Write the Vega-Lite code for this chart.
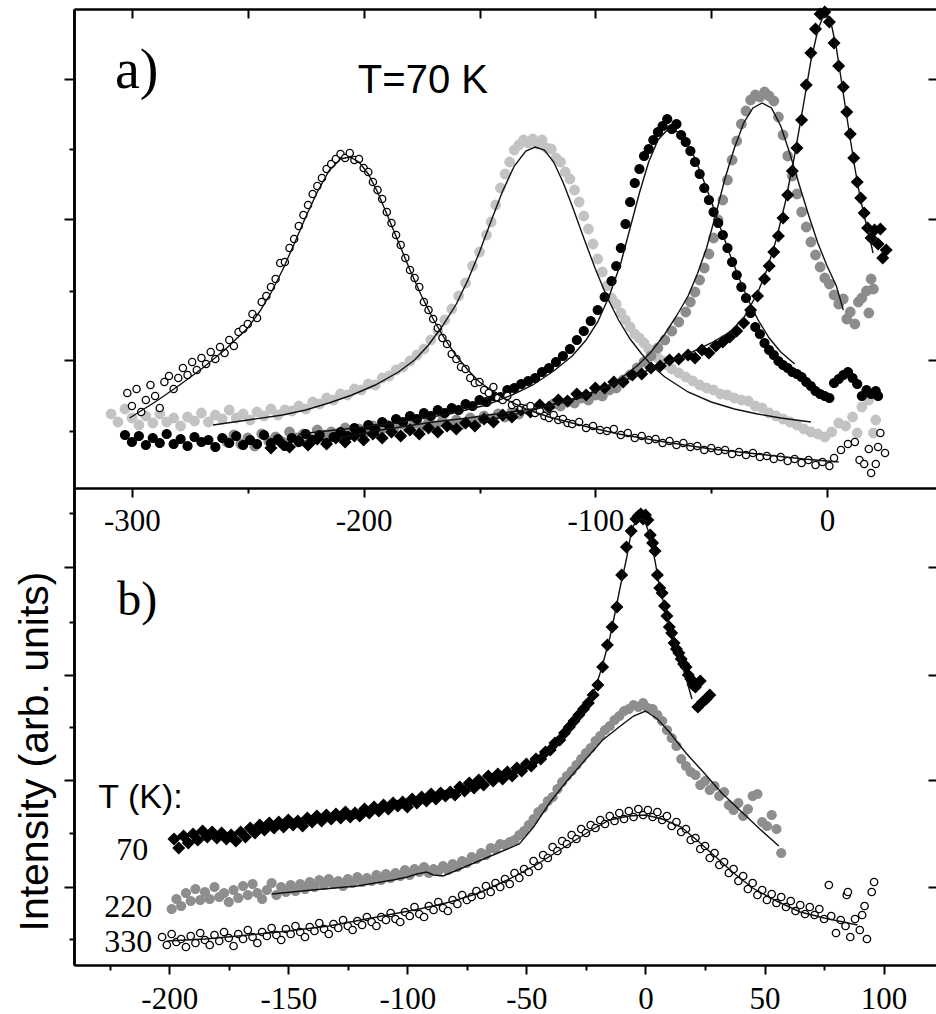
{
"$schema": "https://vega.github.io/schema/vega-lite/v6.json",
"width": 862, "height": 956,
"autosize": {"type": "none"},
"padding": {"left": 74, "top": 9, "right": 0, "bottom": 49},
"background": "white",
"config": {"view": {"stroke": null}, "axis": {"grid": false, "domainColor": "#000", "tickColor": "#000", "labelColor": "#000", "domainWidth": 2.5, "tickWidth": 2, "labelFont": "Liberation Serif", "labelFontSize": 31, "titleColor": "#000"}},
"datasets": {
"pa": [
{"s":"a2","x":-309,"y":7.4},{"s":"a2","x":-306,"y":6.6},{"s":"a2","x":-303,"y":7.9},{"s":"a2","x":-300,"y":7.0},{"s":"a2","x":-297,"y":6.3},{"s":"a2","x":-294,"y":7.2},{"s":"a2","x":-291,"y":6.5},{"s":"a2","x":-288,"y":7.4},{"s":"a2","x":-285,"y":6.6},{"s":"a2","x":-282,"y":7.0},{"s":"a2","x":-279,"y":6.2},{"s":"a2","x":-276,"y":7.1},{"s":"a2","x":-273,"y":6.7},{"s":"a2","x":-270,"y":7.5},{"s":"a2","x":-267,"y":6.6},{"s":"a2","x":-264,"y":7.3},{"s":"a2","x":-261,"y":6.9},{"s":"a2","x":-258,"y":7.8},{"s":"a2","x":-255,"y":7.0},{"s":"a2","x":-252,"y":7.4},{"s":"a2","x":-249,"y":6.8},{"s":"a2","x":-246,"y":7.6},{"s":"a2","x":-243,"y":7.2},{"s":"a2","x":-240,"y":7.9},{"s":"a2","x":-237,"y":7.3},{"s":"a2","x":-234,"y":7.8},{"s":"a2","x":-231,"y":7.7},{"s":"a2","x":-228,"y":8.2},{"s":"a2","x":-225,"y":7.9},{"s":"a2","x":-222,"y":8.6},{"s":"a2","x":-219,"y":8.4},{"s":"a2","x":-216,"y":9.0},{"s":"a2","x":-213,"y":8.8},{"s":"a2","x":-210,"y":9.4},{"s":"a2","x":-207,"y":9.3},{"s":"a2","x":-204,"y":9.9},{"s":"a2","x":-201,"y":9.8},{"s":"a2","x":-198,"y":10.4},{"s":"a2","x":-195,"y":10.3},{"s":"a2","x":-192,"y":11.0},{"s":"a2","x":-189,"y":11.2},{"s":"a2","x":-186,"y":11.8},{"s":"a2","x":-183,"y":12.1},{"s":"a2","x":-180,"y":12.7},{"s":"a2","x":-177,"y":13.3},{"s":"a2","x":-174,"y":13.9},{"s":"a2","x":-171,"y":14.8},{"s":"a2","x":-168,"y":15.7},{"s":"a2","x":-165,"y":16.8},{"s":"a2","x":-162,"y":17.9},{"s":"a2","x":-159,"y":19.2},{"s":"a2","x":-156,"y":20.5},{"s":"a2","x":-153,"y":22.2},{"s":"a2","x":-150,"y":23.6},{"s":"a2","x":-147,"y":25.3},{"s":"a2","x":-145,"y":26.6},{"s":"a2","x":-143,"y":28.3},{"s":"a2","x":-141,"y":30.0},{"s":"a2","x":-139,"y":31.4},{"s":"a2","x":-137,"y":32.6},{"s":"a2","x":-135,"y":33.8},{"s":"a2","x":-133,"y":34.3},{"s":"a2","x":-131,"y":34.8},{"s":"a2","x":-129,"y":34.5},{"s":"a2","x":-127,"y":34.9},{"s":"a2","x":-125,"y":34.4},{"s":"a2","x":-123,"y":34.8},{"s":"a2","x":-121,"y":34.0},{"s":"a2","x":-119,"y":33.9},{"s":"a2","x":-117,"y":33.0},{"s":"a2","x":-115,"y":32.6},{"s":"a2","x":-113,"y":31.6},{"s":"a2","x":-111,"y":30.9},{"s":"a2","x":-109,"y":29.8},{"s":"a2","x":-107,"y":28.6},{"s":"a2","x":-105,"y":27.2},{"s":"a2","x":-103,"y":25.9},{"s":"a2","x":-101,"y":24.4},{"s":"a2","x":-99,"y":22.9},{"s":"a2","x":-97,"y":21.6},{"s":"a2","x":-95,"y":20.2},{"s":"a2","x":-93,"y":19.0},{"s":"a2","x":-91,"y":18.4},{"s":"a2","x":-89,"y":17.5},{"s":"a2","x":-87,"y":16.8},{"s":"a2","x":-85,"y":16.1},{"s":"a2","x":-83,"y":15.4},{"s":"a2","x":-81,"y":15.0},{"s":"a2","x":-79,"y":14.5},{"s":"a2","x":-77,"y":13.9},{"s":"a2","x":-75,"y":13.6},{"s":"a2","x":-73,"y":13.0},{"s":"a2","x":-71,"y":12.7},{"s":"a2","x":-69,"y":12.3},{"s":"a2","x":-67,"y":11.9},{"s":"a2","x":-64,"y":11.5},{"s":"a2","x":-61,"y":11.1},{"s":"a2","x":-58,"y":10.7},{"s":"a2","x":-55,"y":10.3},{"s":"a2","x":-52,"y":10.0},{"s":"a2","x":-49,"y":9.8},{"s":"a2","x":-46,"y":9.4},{"s":"a2","x":-43,"y":9.3},{"s":"a2","x":-40,"y":9.0},{"s":"a2","x":-37,"y":8.8},{"s":"a2","x":-34,"y":8.7},{"s":"a2","x":-31,"y":8.2},{"s":"a2","x":-28,"y":8.0},{"s":"a2","x":-25,"y":7.5},{"s":"a2","x":-22,"y":7.2},{"s":"a2","x":-19,"y":6.9},{"s":"a2","x":-16,"y":6.6},{"s":"a2","x":-13,"y":6.3},{"s":"a2","x":-10,"y":5.9},{"s":"a2","x":-7,"y":5.6},{"s":"a2","x":-4,"y":5.4},{"s":"a2","x":-1,"y":5.1},{"s":"a2","x":2,"y":5.6},{"s":"a2","x":5,"y":6.5},{"s":"a2","x":8,"y":6.2},{"s":"a2","x":11,"y":7.1},{"s":"a2","x":13,"y":5.5},{"s":"a2","x":15,"y":8.1},{"s":"a2","x":18,"y":8.8},{"s":"a2","x":20,"y":5.5},{"s":"a2","x":21,"y":6.8},
{"s":"a4","x":-259,"y":4.6},{"s":"a4","x":-256,"y":5.3},{"s":"a4","x":-253,"y":4.4},{"s":"a4","x":-250,"y":5.0},{"s":"a4","x":-247,"y":4.2},{"s":"a4","x":-244,"y":5.4},{"s":"a4","x":-241,"y":4.7},{"s":"a4","x":-238,"y":5.1},{"s":"a4","x":-235,"y":4.6},{"s":"a4","x":-232,"y":5.6},{"s":"a4","x":-229,"y":5.0},{"s":"a4","x":-226,"y":5.4},{"s":"a4","x":-223,"y":4.9},{"s":"a4","x":-220,"y":5.8},{"s":"a4","x":-217,"y":5.3},{"s":"a4","x":-214,"y":5.6},{"s":"a4","x":-211,"y":5.2},{"s":"a4","x":-208,"y":6.0},{"s":"a4","x":-205,"y":5.5},{"s":"a4","x":-202,"y":5.9},{"s":"a4","x":-199,"y":5.6},{"s":"a4","x":-196,"y":6.2},{"s":"a4","x":-193,"y":5.7},{"s":"a4","x":-190,"y":6.3},{"s":"a4","x":-187,"y":5.9},{"s":"a4","x":-184,"y":6.4},{"s":"a4","x":-181,"y":6.0},{"s":"a4","x":-178,"y":6.5},{"s":"a4","x":-175,"y":6.1},{"s":"a4","x":-172,"y":6.6},{"s":"a4","x":-169,"y":6.2},{"s":"a4","x":-166,"y":6.7},{"s":"a4","x":-163,"y":6.3},{"s":"a4","x":-160,"y":6.8},{"s":"a4","x":-157,"y":6.4},{"s":"a4","x":-154,"y":7.0},{"s":"a4","x":-151,"y":6.7},{"s":"a4","x":-148,"y":7.2},{"s":"a4","x":-145,"y":6.9},{"s":"a4","x":-142,"y":7.4},{"s":"a4","x":-139,"y":7.1},{"s":"a4","x":-136,"y":7.6},{"s":"a4","x":-133,"y":7.4},{"s":"a4","x":-130,"y":7.9},{"s":"a4","x":-127,"y":7.7},{"s":"a4","x":-124,"y":8.1},{"s":"a4","x":-121,"y":7.9},{"s":"a4","x":-118,"y":8.4},{"s":"a4","x":-115,"y":8.2},{"s":"a4","x":-112,"y":8.6},{"s":"a4","x":-109,"y":8.5},{"s":"a4","x":-106,"y":9.0},{"s":"a4","x":-103,"y":8.8},{"s":"a4","x":-100,"y":9.3},{"s":"a4","x":-97,"y":9.2},{"s":"a4","x":-94,"y":9.8},{"s":"a4","x":-91,"y":10.0},{"s":"a4","x":-88,"y":10.8},{"s":"a4","x":-85,"y":11.3},{"s":"a4","x":-82,"y":12.0},{"s":"a4","x":-79,"y":12.6},{"s":"a4","x":-76,"y":13.2},{"s":"a4","x":-73,"y":14.0},{"s":"a4","x":-70,"y":14.8},{"s":"a4","x":-67,"y":15.7},{"s":"a4","x":-64,"y":16.6},{"s":"a4","x":-61,"y":17.6},{"s":"a4","x":-59,"y":18.6},{"s":"a4","x":-57,"y":19.6},{"s":"a4","x":-55,"y":20.8},{"s":"a4","x":-53,"y":22.0},{"s":"a4","x":-51,"y":23.4},{"s":"a4","x":-49,"y":25.0},{"s":"a4","x":-47,"y":26.8},{"s":"a4","x":-45,"y":28.8},{"s":"a4","x":-43,"y":30.8},{"s":"a4","x":-41,"y":32.8},{"s":"a4","x":-39,"y":34.7},{"s":"a4","x":-37,"y":36.4},{"s":"a4","x":-35,"y":37.7},{"s":"a4","x":-33,"y":38.8},{"s":"a4","x":-31,"y":39.3},{"s":"a4","x":-29,"y":39.1},{"s":"a4","x":-27,"y":39.6},{"s":"a4","x":-25,"y":39.2},{"s":"a4","x":-23,"y":38.7},{"s":"a4","x":-21,"y":37.1},{"s":"a4","x":-19,"y":35.3},{"s":"a4","x":-17,"y":33.2},{"s":"a4","x":-15,"y":31.2},{"s":"a4","x":-13,"y":29.4},{"s":"a4","x":-11,"y":27.6},{"s":"a4","x":-9,"y":26.1},{"s":"a4","x":-7,"y":24.6},{"s":"a4","x":-5,"y":23.3},{"s":"a4","x":-3,"y":22.1},{"s":"a4","x":-1,"y":21.0},{"s":"a4","x":1,"y":20.4},{"s":"a4","x":3,"y":19.3},{"s":"a4","x":5,"y":18.4},{"s":"a4","x":7,"y":18.9},{"s":"a4","x":8.5,"y":16.9},{"s":"a4","x":10,"y":17.6},{"s":"a4","x":12,"y":16.4},{"s":"a4","x":13.5,"y":18.6},{"s":"a4","x":15,"y":19.0},{"s":"a4","x":17,"y":19.7},{"s":"a4","x":18,"y":17.5},{"s":"a4","x":19,"y":20.9},{"s":"a4","x":20,"y":19.9},
{"s":"a3","x":-303,"y":5.3},{"s":"a3","x":-300,"y":4.6},{"s":"a3","x":-297,"y":5.2},{"s":"a3","x":-294,"y":4.3},{"s":"a3","x":-291,"y":5.0},{"s":"a3","x":-288,"y":4.5},{"s":"a3","x":-285,"y":5.4},{"s":"a3","x":-282,"y":4.4},{"s":"a3","x":-279,"y":4.9},{"s":"a3","x":-276,"y":4.2},{"s":"a3","x":-273,"y":5.1},{"s":"a3","x":-270,"y":4.6},{"s":"a3","x":-267,"y":4.8},{"s":"a3","x":-264,"y":4.1},{"s":"a3","x":-261,"y":5.0},{"s":"a3","x":-258,"y":4.5},{"s":"a3","x":-255,"y":5.2},{"s":"a3","x":-252,"y":4.3},{"s":"a3","x":-249,"y":4.8},{"s":"a3","x":-246,"y":4.4},{"s":"a3","x":-243,"y":5.3},{"s":"a3","x":-240,"y":4.5},{"s":"a3","x":-237,"y":4.9},{"s":"a3","x":-234,"y":4.2},{"s":"a3","x":-231,"y":5.0},{"s":"a3","x":-228,"y":4.6},{"s":"a3","x":-225,"y":5.4},{"s":"a3","x":-222,"y":4.8},{"s":"a3","x":-219,"y":5.3},{"s":"a3","x":-216,"y":4.5},{"s":"a3","x":-213,"y":5.1},{"s":"a3","x":-210,"y":5.6},{"s":"a3","x":-207,"y":5.2},{"s":"a3","x":-204,"y":6.0},{"s":"a3","x":-201,"y":5.6},{"s":"a3","x":-198,"y":6.3},{"s":"a3","x":-195,"y":5.9},{"s":"a3","x":-192,"y":6.6},{"s":"a3","x":-189,"y":6.2},{"s":"a3","x":-186,"y":6.9},{"s":"a3","x":-183,"y":6.6},{"s":"a3","x":-180,"y":7.2},{"s":"a3","x":-177,"y":6.9},{"s":"a3","x":-174,"y":7.5},{"s":"a3","x":-171,"y":7.2},{"s":"a3","x":-168,"y":7.8},{"s":"a3","x":-165,"y":7.5},{"s":"a3","x":-162,"y":8.0},{"s":"a3","x":-159,"y":7.8},{"s":"a3","x":-156,"y":8.4},{"s":"a3","x":-153,"y":8.2},{"s":"a3","x":-150,"y":8.8},{"s":"a3","x":-147,"y":8.6},{"s":"a3","x":-144,"y":9.2},{"s":"a3","x":-141,"y":9.1},{"s":"a3","x":-138,"y":9.8},{"s":"a3","x":-135,"y":10.0},{"s":"a3","x":-132,"y":10.4},{"s":"a3","x":-129,"y":10.7},{"s":"a3","x":-126,"y":11.0},{"s":"a3","x":-123,"y":11.6},{"s":"a3","x":-120,"y":12.0},{"s":"a3","x":-117,"y":12.6},{"s":"a3","x":-114,"y":13.2},{"s":"a3","x":-111,"y":13.9},{"s":"a3","x":-108,"y":14.8},{"s":"a3","x":-105,"y":15.7},{"s":"a3","x":-102,"y":16.7},{"s":"a3","x":-99,"y":17.8},{"s":"a3","x":-96,"y":19.1},{"s":"a3","x":-93,"y":20.7},{"s":"a3","x":-91,"y":22.2},{"s":"a3","x":-89,"y":24.0},{"s":"a3","x":-87,"y":26.4},{"s":"a3","x":-85,"y":28.6},{"s":"a3","x":-83,"y":30.5},{"s":"a3","x":-81,"y":31.9},{"s":"a3","x":-79,"y":33.2},{"s":"a3","x":-77,"y":33.9},{"s":"a3","x":-75,"y":34.8},{"s":"a3","x":-73,"y":35.6},{"s":"a3","x":-71,"y":36.2},{"s":"a3","x":-69,"y":36.9},{"s":"a3","x":-67,"y":35.9},{"s":"a3","x":-65,"y":36.4},{"s":"a3","x":-63,"y":35.3},{"s":"a3","x":-61,"y":34.6},{"s":"a3","x":-59,"y":33.7},{"s":"a3","x":-57,"y":32.6},{"s":"a3","x":-55,"y":31.4},{"s":"a3","x":-53,"y":30.0},{"s":"a3","x":-51,"y":28.8},{"s":"a3","x":-49,"y":27.6},{"s":"a3","x":-47,"y":26.5},{"s":"a3","x":-45,"y":25.3},{"s":"a3","x":-43,"y":24.0},{"s":"a3","x":-41,"y":22.6},{"s":"a3","x":-39,"y":21.3},{"s":"a3","x":-37,"y":20.1},{"s":"a3","x":-35,"y":19.0},{"s":"a3","x":-33,"y":17.5},{"s":"a3","x":-31,"y":16.1},{"s":"a3","x":-29,"y":15.4},{"s":"a3","x":-27,"y":14.5},{"s":"a3","x":-25,"y":13.8},{"s":"a3","x":-23,"y":13.3},{"s":"a3","x":-21,"y":12.7},{"s":"a3","x":-19,"y":12.3},{"s":"a3","x":-17,"y":12.0},{"s":"a3","x":-15,"y":11.6},{"s":"a3","x":-13,"y":11.4},{"s":"a3","x":-11,"y":11.1},{"s":"a3","x":-9,"y":10.6},{"s":"a3","x":-7,"y":10.2},{"s":"a3","x":-5,"y":9.7},{"s":"a3","x":-3,"y":9.4},{"s":"a3","x":-1,"y":9.2},{"s":"a3","x":1,"y":9.0},{"s":"a3","x":3,"y":10.5},{"s":"a3","x":5,"y":10.9},{"s":"a3","x":7,"y":11.3},{"s":"a3","x":9,"y":11.6},{"s":"a3","x":11,"y":11.0},{"s":"a3","x":13,"y":10.4},{"s":"a3","x":15,"y":9.2},{"s":"a3","x":17,"y":9.8},{"s":"a3","x":19,"y":9.4},{"s":"a3","x":21,"y":9.7},{"s":"a3","x":22,"y":9.2},
{"s":"a5","x":-240,"y":4.0},{"s":"a5","x":-236,"y":4.6},{"s":"a5","x":-232,"y":4.1},{"s":"a5","x":-228,"y":4.7},{"s":"a5","x":-224,"y":4.3},{"s":"a5","x":-220,"y":4.9},{"s":"a5","x":-216,"y":4.4},{"s":"a5","x":-212,"y":5.0},{"s":"a5","x":-208,"y":4.6},{"s":"a5","x":-204,"y":5.2},{"s":"a5","x":-200,"y":4.8},{"s":"a5","x":-196,"y":5.4},{"s":"a5","x":-192,"y":5.0},{"s":"a5","x":-188,"y":5.6},{"s":"a5","x":-184,"y":5.2},{"s":"a5","x":-180,"y":5.8},{"s":"a5","x":-176,"y":5.4},{"s":"a5","x":-172,"y":6.0},{"s":"a5","x":-168,"y":5.6},{"s":"a5","x":-164,"y":6.2},{"s":"a5","x":-160,"y":5.9},{"s":"a5","x":-156,"y":6.5},{"s":"a5","x":-152,"y":6.2},{"s":"a5","x":-148,"y":6.9},{"s":"a5","x":-144,"y":6.6},{"s":"a5","x":-140,"y":7.3},{"s":"a5","x":-136,"y":7.1},{"s":"a5","x":-132,"y":7.8},{"s":"a5","x":-128,"y":7.6},{"s":"a5","x":-124,"y":8.3},{"s":"a5","x":-120,"y":8.1},{"s":"a5","x":-116,"y":8.8},{"s":"a5","x":-112,"y":8.7},{"s":"a5","x":-108,"y":9.4},{"s":"a5","x":-104,"y":9.3},{"s":"a5","x":-100,"y":10.0},{"s":"a5","x":-96,"y":10.0},{"s":"a5","x":-92,"y":10.6},{"s":"a5","x":-88,"y":10.6},{"s":"a5","x":-84,"y":11.3},{"s":"a5","x":-80,"y":11.4},{"s":"a5","x":-76,"y":12.0},{"s":"a5","x":-72,"y":12.2},{"s":"a5","x":-68,"y":12.8},{"s":"a5","x":-64,"y":12.9},{"s":"a5","x":-60,"y":13.3},{"s":"a5","x":-57,"y":13.0},{"s":"a5","x":-54,"y":13.8},{"s":"a5","x":-51,"y":13.5},{"s":"a5","x":-48,"y":14.2},{"s":"a5","x":-45,"y":14.6},{"s":"a5","x":-42,"y":15.1},{"s":"a5","x":-39,"y":15.7},{"s":"a5","x":-36,"y":16.5},{"s":"a5","x":-33,"y":17.8},{"s":"a5","x":-30,"y":19.2},{"s":"a5","x":-27,"y":20.9},{"s":"a5","x":-25,"y":22.2},{"s":"a5","x":-23,"y":23.6},{"s":"a5","x":-21,"y":25.2},{"s":"a5","x":-19,"y":27.0},{"s":"a5","x":-17,"y":29.3},{"s":"a5","x":-15,"y":31.7},{"s":"a5","x":-13,"y":34.0},{"s":"a5","x":-11,"y":36.8},{"s":"a5","x":-9,"y":40.3},{"s":"a5","x":-7,"y":43.5},{"s":"a5","x":-5,"y":45.9},{"s":"a5","x":-3,"y":47.4},{"s":"a5","x":-1,"y":47.6},{"s":"a5","x":1,"y":46.6},{"s":"a5","x":3,"y":44.5},{"s":"a5","x":5,"y":42.2},{"s":"a5","x":7,"y":40.1},{"s":"a5","x":8.5,"y":37.6},{"s":"a5","x":10,"y":35.4},{"s":"a5","x":11.5,"y":33.0},{"s":"a5","x":13,"y":30.6},{"s":"a5","x":14.5,"y":29.0},{"s":"a5","x":16,"y":27.5},{"s":"a5","x":17.5,"y":26.0},{"s":"a5","x":19,"y":25.0},{"s":"a5","x":20.5,"y":25.8},{"s":"a5","x":22,"y":24.4},{"s":"a5","x":23,"y":25.9},{"s":"a5","x":24,"y":23.0},{"s":"a5","x":25.5,"y":23.8},
{"s":"a1","x":-302,"y":9.5},{"s":"a1","x":-300,"y":8.2},{"s":"a1","x":-298,"y":9.9},{"s":"a1","x":-296,"y":7.6},{"s":"a1","x":-294,"y":8.8},{"s":"a1","x":-292,"y":10.3},{"s":"a1","x":-290,"y":9.2},{"s":"a1","x":-288,"y":8.0},{"s":"a1","x":-286,"y":10.6},{"s":"a1","x":-284,"y":11.2},{"s":"a1","x":-282,"y":9.9},{"s":"a1","x":-280,"y":11.0},{"s":"a1","x":-278,"y":12.0},{"s":"a1","x":-276,"y":11.3},{"s":"a1","x":-274,"y":12.6},{"s":"a1","x":-272,"y":11.8},{"s":"a1","x":-270,"y":13.0},{"s":"a1","x":-268,"y":12.4},{"s":"a1","x":-266,"y":13.6},{"s":"a1","x":-264,"y":12.9},{"s":"a1","x":-262,"y":14.1},{"s":"a1","x":-260,"y":13.5},{"s":"a1","x":-258,"y":14.8},{"s":"a1","x":-256,"y":14.2},{"s":"a1","x":-254,"y":15.6},{"s":"a1","x":-252,"y":15.9},{"s":"a1","x":-250,"y":16.4},{"s":"a1","x":-248,"y":17.4},{"s":"a1","x":-246,"y":17.0},{"s":"a1","x":-244,"y":18.6},{"s":"a1","x":-242,"y":19.2},{"s":"a1","x":-240,"y":20.1},{"s":"a1","x":-238,"y":20.9},{"s":"a1","x":-236,"y":22.5},{"s":"a1","x":-234,"y":22.6},{"s":"a1","x":-232,"y":24.0},{"s":"a1","x":-230,"y":24.9},{"s":"a1","x":-228,"y":26.2},{"s":"a1","x":-226,"y":27.3},{"s":"a1","x":-224,"y":28.3},{"s":"a1","x":-222,"y":29.4},{"s":"a1","x":-220,"y":30.2},{"s":"a1","x":-218,"y":31.0},{"s":"a1","x":-216,"y":31.9},{"s":"a1","x":-214,"y":32.4},{"s":"a1","x":-212,"y":32.9},{"s":"a1","x":-210,"y":33.4},{"s":"a1","x":-208,"y":33.0},{"s":"a1","x":-206,"y":33.5},{"s":"a1","x":-204,"y":32.8},{"s":"a1","x":-202,"y":32.9},{"s":"a1","x":-200,"y":32.0},{"s":"a1","x":-198,"y":31.6},{"s":"a1","x":-196,"y":30.6},{"s":"a1","x":-194,"y":29.8},{"s":"a1","x":-192,"y":28.9},{"s":"a1","x":-190,"y":27.6},{"s":"a1","x":-188,"y":26.5},{"s":"a1","x":-186,"y":25.3},{"s":"a1","x":-184,"y":24.3},{"s":"a1","x":-182,"y":23.0},{"s":"a1","x":-180,"y":21.8},{"s":"a1","x":-178,"y":21.0},{"s":"a1","x":-176,"y":20.1},{"s":"a1","x":-174,"y":18.6},{"s":"a1","x":-172,"y":17.8},{"s":"a1","x":-170,"y":16.9},{"s":"a1","x":-168,"y":16.0},{"s":"a1","x":-166,"y":15.0},{"s":"a1","x":-164,"y":14.4},{"s":"a1","x":-162,"y":13.4},{"s":"a1","x":-160,"y":12.9},{"s":"a1","x":-158,"y":12.1},{"s":"a1","x":-156,"y":11.9},{"s":"a1","x":-154,"y":11.0},{"s":"a1","x":-152,"y":10.5},{"s":"a1","x":-150,"y":10.6},{"s":"a1","x":-148,"y":9.8},{"s":"a1","x":-146,"y":9.5},{"s":"a1","x":-144,"y":10.1},{"s":"a1","x":-142,"y":9.0},{"s":"a1","x":-140,"y":8.8},{"s":"a1","x":-138,"y":9.2},{"s":"a1","x":-136,"y":8.3},{"s":"a1","x":-134,"y":8.5},{"s":"a1","x":-132,"y":8.0},{"s":"a1","x":-130,"y":7.9},{"s":"a1","x":-128,"y":8.2},{"s":"a1","x":-126,"y":7.5},{"s":"a1","x":-124,"y":7.7},{"s":"a1","x":-122,"y":7.2},{"s":"a1","x":-120,"y":7.0},{"s":"a1","x":-118,"y":7.3},{"s":"a1","x":-116,"y":6.8},{"s":"a1","x":-114,"y":6.9},{"s":"a1","x":-112,"y":6.5},{"s":"a1","x":-110,"y":6.4},{"s":"a1","x":-107,"y":6.6},{"s":"a1","x":-104,"y":6.0},{"s":"a1","x":-101,"y":6.2},{"s":"a1","x":-98,"y":5.8},{"s":"a1","x":-95,"y":5.7},{"s":"a1","x":-92,"y":5.9},{"s":"a1","x":-89,"y":5.3},{"s":"a1","x":-86,"y":5.5},{"s":"a1","x":-83,"y":5.0},{"s":"a1","x":-80,"y":5.2},{"s":"a1","x":-77,"y":4.8},{"s":"a1","x":-74,"y":4.9},{"s":"a1","x":-71,"y":4.5},{"s":"a1","x":-68,"y":4.7},{"s":"a1","x":-65,"y":4.3},{"s":"a1","x":-62,"y":4.5},{"s":"a1","x":-59,"y":4.1},{"s":"a1","x":-56,"y":4.2},{"s":"a1","x":-53,"y":3.8},{"s":"a1","x":-50,"y":4.0},{"s":"a1","x":-47,"y":3.7},{"s":"a1","x":-44,"y":3.8},{"s":"a1","x":-41,"y":3.4},{"s":"a1","x":-38,"y":3.6},{"s":"a1","x":-35,"y":3.3},{"s":"a1","x":-32,"y":3.5},{"s":"a1","x":-29,"y":3.1},{"s":"a1","x":-26,"y":3.2},{"s":"a1","x":-23,"y":2.9},{"s":"a1","x":-20,"y":3.1},{"s":"a1","x":-17,"y":2.7},{"s":"a1","x":-14,"y":2.9},{"s":"a1","x":-11,"y":2.5},{"s":"a1","x":-8,"y":2.8},{"s":"a1","x":-5,"y":2.3},{"s":"a1","x":-2,"y":2.6},{"s":"a1","x":1,"y":2.2},{"s":"a1","x":3,"y":3.0},{"s":"a1","x":6,"y":3.8},{"s":"a1","x":9,"y":4.4},{"s":"a1","x":12,"y":4.6},{"s":"a1","x":14,"y":2.8},{"s":"a1","x":16,"y":2.4},{"s":"a1","x":18,"y":3.9},{"s":"a1","x":19,"y":1.5},{"s":"a1","x":21,"y":2.4},{"s":"a1","x":22,"y":4.1},{"s":"a1","x":23,"y":5.5},{"s":"a1","x":25,"y":3.5}
],
"la": [
{"s":"a1","x":-301,"y":7.0},{"s":"a1","x":-290,"y":8.6},{"s":"a1","x":-280,"y":10.2},{"s":"a1","x":-270,"y":11.9},{"s":"a1","x":-260,"y":13.8},{"s":"a1","x":-250,"y":16.0},{"s":"a1","x":-245,"y":17.6},{"s":"a1","x":-240,"y":19.5},{"s":"a1","x":-235,"y":21.8},{"s":"a1","x":-230,"y":24.4},{"s":"a1","x":-225,"y":27.1},{"s":"a1","x":-220,"y":29.6},{"s":"a1","x":-215,"y":31.7},{"s":"a1","x":-210,"y":32.9},{"s":"a1","x":-206,"y":33.1},{"s":"a1","x":-202,"y":32.6},{"s":"a1","x":-198,"y":31.4},{"s":"a1","x":-194,"y":29.6},{"s":"a1","x":-190,"y":27.4},{"s":"a1","x":-185,"y":24.6},{"s":"a1","x":-180,"y":21.8},{"s":"a1","x":-175,"y":19.2},{"s":"a1","x":-170,"y":16.9},{"s":"a1","x":-165,"y":14.9},{"s":"a1","x":-160,"y":13.2},{"s":"a1","x":-155,"y":11.8},{"s":"a1","x":-150,"y":10.6},{"s":"a1","x":-140,"y":9.0},{"s":"a1","x":-130,"y":7.9},{"s":"a1","x":-120,"y":7.1},{"s":"a1","x":-105,"y":6.2},{"s":"a1","x":-90,"y":5.4},{"s":"a1","x":-70,"y":4.6},{"s":"a1","x":-50,"y":3.9},{"s":"a1","x":-30,"y":3.4},{"s":"a1","x":-10,"y":2.9},{"s":"a1","x":5,"y":2.6},
{"s":"a2","x":-265,"y":6.3},{"s":"a2","x":-250,"y":6.8},{"s":"a2","x":-235,"y":7.3},{"s":"a2","x":-225,"y":7.8},{"s":"a2","x":-215,"y":8.5},{"s":"a2","x":-205,"y":9.3},{"s":"a2","x":-195,"y":10.3},{"s":"a2","x":-185,"y":11.6},{"s":"a2","x":-178,"y":12.8},{"s":"a2","x":-172,"y":14.3},{"s":"a2","x":-166,"y":16.2},{"s":"a2","x":-160,"y":18.4},{"s":"a2","x":-155,"y":20.8},{"s":"a2","x":-150,"y":23.6},{"s":"a2","x":-145,"y":26.7},{"s":"a2","x":-140,"y":29.7},{"s":"a2","x":-135,"y":32.2},{"s":"a2","x":-130,"y":33.7},{"s":"a2","x":-126,"y":34.1},{"s":"a2","x":-122,"y":33.8},{"s":"a2","x":-118,"y":32.6},{"s":"a2","x":-114,"y":30.6},{"s":"a2","x":-110,"y":28.2},{"s":"a2","x":-105,"y":25.0},{"s":"a2","x":-100,"y":21.9},{"s":"a2","x":-95,"y":19.1},{"s":"a2","x":-90,"y":16.8},{"s":"a2","x":-85,"y":14.9},{"s":"a2","x":-80,"y":13.4},{"s":"a2","x":-75,"y":12.1},{"s":"a2","x":-70,"y":11.1},{"s":"a2","x":-60,"y":9.6},{"s":"a2","x":-50,"y":8.6},{"s":"a2","x":-40,"y":7.9},{"s":"a2","x":-30,"y":7.4},{"s":"a2","x":-20,"y":7.0},{"s":"a2","x":-7,"y":6.6},
{"s":"a3","x":-228,"y":5.4},{"s":"a3","x":-200,"y":6.1},{"s":"a3","x":-184,"y":6.6},{"s":"a3","x":-163,"y":7.4},{"s":"a3","x":-147,"y":8.3},{"s":"a3","x":-136,"y":9.3},{"s":"a3","x":-127,"y":10.3},{"s":"a3","x":-118,"y":11.7},{"s":"a3","x":-110,"y":13.2},{"s":"a3","x":-104,"y":14.8},{"s":"a3","x":-99,"y":16.6},{"s":"a3","x":-94,"y":19.2},{"s":"a3","x":-89,"y":22.5},{"s":"a3","x":-85,"y":26.0},{"s":"a3","x":-81,"y":29.5},{"s":"a3","x":-77,"y":32.6},{"s":"a3","x":-73,"y":34.8},{"s":"a3","x":-69,"y":35.8},{"s":"a3","x":-66,"y":35.9},{"s":"a3","x":-62,"y":35.0},{"s":"a3","x":-58,"y":33.5},{"s":"a3","x":-54,"y":31.2},{"s":"a3","x":-50,"y":28.7},{"s":"a3","x":-46,"y":26.0},{"s":"a3","x":-42,"y":23.4},{"s":"a3","x":-38,"y":21.0},{"s":"a3","x":-34,"y":18.8},{"s":"a3","x":-30,"y":16.9},{"s":"a3","x":-25,"y":15.0},{"s":"a3","x":-20,"y":13.6},{"s":"a3","x":-14,"y":12.4},
{"s":"a4","x":-211,"y":5.0},{"s":"a4","x":-195,"y":5.7},{"s":"a4","x":-184,"y":6.1},{"s":"a4","x":-170,"y":6.6},{"s":"a4","x":-155,"y":7.0},{"s":"a4","x":-140,"y":7.5},{"s":"a4","x":-127,"y":7.9},{"s":"a4","x":-115,"y":8.5},{"s":"a4","x":-105,"y":9.1},{"s":"a4","x":-95,"y":10.2},{"s":"a4","x":-89,"y":11.0},{"s":"a4","x":-82,"y":12.2},{"s":"a4","x":-76,"y":13.6},{"s":"a4","x":-70,"y":15.4},{"s":"a4","x":-65,"y":17.2},{"s":"a4","x":-60,"y":19.2},{"s":"a4","x":-56,"y":21.4},{"s":"a4","x":-52,"y":24.0},{"s":"a4","x":-48,"y":27.4},{"s":"a4","x":-44,"y":31.0},{"s":"a4","x":-40,"y":34.0},{"s":"a4","x":-36,"y":36.5},{"s":"a4","x":-32,"y":38.0},{"s":"a4","x":-28,"y":38.5},{"s":"a4","x":-24,"y":38.0},{"s":"a4","x":-20,"y":36.2},{"s":"a4","x":-16,"y":33.4},{"s":"a4","x":-12,"y":30.3},{"s":"a4","x":-8,"y":27.3},{"s":"a4","x":-4,"y":24.5},{"s":"a4","x":0,"y":22.2},{"s":"a4","x":4,"y":20.2},{"s":"a4","x":7,"y":17.8},
{"s":"a5","x":-150,"y":6.6},{"s":"a5","x":-130,"y":7.6},{"s":"a5","x":-110,"y":8.9},{"s":"a5","x":-90,"y":10.5},{"s":"a5","x":-75,"y":12.0},{"s":"a5","x":-60,"y":13.4},{"s":"a5","x":-50,"y":14.5},{"s":"a5","x":-42,"y":15.6},{"s":"a5","x":-36,"y":17.0},{"s":"a5","x":-30,"y":19.5},{"s":"a5","x":-26,"y":21.8},{"s":"a5","x":-22,"y":24.8},{"s":"a5","x":-18,"y":28.6},{"s":"a5","x":-14,"y":33.3},{"s":"a5","x":-10,"y":38.6},{"s":"a5","x":-7,"y":42.7},{"s":"a5","x":-4,"y":45.8},{"s":"a5","x":-2,"y":47.0},{"s":"a5","x":0,"y":47.2},{"s":"a5","x":2,"y":46.2},{"s":"a5","x":4,"y":44.0},{"s":"a5","x":6,"y":41.0},{"s":"a5","x":8,"y":37.9},{"s":"a5","x":10,"y":34.9},{"s":"a5","x":12,"y":32.0},{"s":"a5","x":14,"y":29.4},{"s":"a5","x":16,"y":27.2},{"s":"a5","x":18,"y":25.5},{"s":"a5","x":19.8,"y":23.5}
],
"pb": [
{"s":"b2","x":-199,"y":5.6},{"s":"b2","x":-197,"y":6.6},{"s":"b2","x":-195,"y":5.9},{"s":"b2","x":-193,"y":7.2},{"s":"b2","x":-191,"y":6.4},{"s":"b2","x":-189,"y":7.6},{"s":"b2","x":-187,"y":6.5},{"s":"b2","x":-185,"y":7.3},{"s":"b2","x":-183,"y":6.6},{"s":"b2","x":-181,"y":7.8},{"s":"b2","x":-179,"y":6.8},{"s":"b2","x":-177,"y":7.2},{"s":"b2","x":-175,"y":6.3},{"s":"b2","x":-173,"y":7.5},{"s":"b2","x":-171,"y":6.7},{"s":"b2","x":-169,"y":7.9},{"s":"b2","x":-167,"y":7.0},{"s":"b2","x":-165,"y":8.1},{"s":"b2","x":-163,"y":7.2},{"s":"b2","x":-161,"y":6.6},{"s":"b2","x":-159,"y":7.5},{"s":"b2","x":-157,"y":8.2},{"s":"b2","x":-155,"y":7.0},{"s":"b2","x":-153,"y":7.8},{"s":"b2","x":-151,"y":7.3},{"s":"b2","x":-149,"y":8.0},{"s":"b2","x":-147,"y":7.4},{"s":"b2","x":-145,"y":8.1},{"s":"b2","x":-143,"y":7.6},{"s":"b2","x":-141,"y":8.3},{"s":"b2","x":-139,"y":7.8},{"s":"b2","x":-137,"y":8.5},{"s":"b2","x":-135,"y":8.0},{"s":"b2","x":-133,"y":8.6},{"s":"b2","x":-131,"y":8.1},{"s":"b2","x":-129,"y":8.4},{"s":"b2","x":-127,"y":7.9},{"s":"b2","x":-125,"y":8.6},{"s":"b2","x":-123,"y":8.2},{"s":"b2","x":-121,"y":8.8},{"s":"b2","x":-119,"y":8.3},{"s":"b2","x":-117,"y":8.7},{"s":"b2","x":-115,"y":8.4},{"s":"b2","x":-113,"y":9.0},{"s":"b2","x":-111,"y":8.5},{"s":"b2","x":-109,"y":9.1},{"s":"b2","x":-107,"y":8.7},{"s":"b2","x":-105,"y":9.2},{"s":"b2","x":-103,"y":8.9},{"s":"b2","x":-101,"y":9.5},{"s":"b2","x":-99,"y":9.0},{"s":"b2","x":-97,"y":9.6},{"s":"b2","x":-95,"y":9.3},{"s":"b2","x":-93,"y":9.8},{"s":"b2","x":-91,"y":9.2},{"s":"b2","x":-89,"y":9.6},{"s":"b2","x":-87,"y":9.4},{"s":"b2","x":-85,"y":9.9},{"s":"b2","x":-83,"y":9.5},{"s":"b2","x":-81,"y":10.1},{"s":"b2","x":-79,"y":9.8},{"s":"b2","x":-77,"y":10.4},{"s":"b2","x":-75,"y":10.2},{"s":"b2","x":-73,"y":10.8},{"s":"b2","x":-71,"y":10.6},{"s":"b2","x":-69,"y":11.2},{"s":"b2","x":-67,"y":11.0},{"s":"b2","x":-65,"y":11.7},{"s":"b2","x":-63,"y":11.6},{"s":"b2","x":-61,"y":12.1},{"s":"b2","x":-59,"y":12.0},{"s":"b2","x":-57,"y":12.3},{"s":"b2","x":-55,"y":12.5},{"s":"b2","x":-53,"y":13.0},{"s":"b2","x":-51,"y":13.4},{"s":"b2","x":-49,"y":14.0},{"s":"b2","x":-47,"y":14.6},{"s":"b2","x":-45,"y":15.3},{"s":"b2","x":-43,"y":15.7},{"s":"b2","x":-41,"y":16.4},{"s":"b2","x":-39,"y":16.8},{"s":"b2","x":-37,"y":17.6},{"s":"b2","x":-35,"y":18.3},{"s":"b2","x":-33,"y":18.9},{"s":"b2","x":-31,"y":19.4},{"s":"b2","x":-29,"y":20.0},{"s":"b2","x":-27,"y":20.6},{"s":"b2","x":-25,"y":21.2},{"s":"b2","x":-23,"y":21.7},{"s":"b2","x":-21,"y":22.4},{"s":"b2","x":-19,"y":22.9},{"s":"b2","x":-17,"y":23.5},{"s":"b2","x":-15,"y":23.9},{"s":"b2","x":-13,"y":24.5},{"s":"b2","x":-11,"y":24.9},{"s":"b2","x":-9,"y":25.4},{"s":"b2","x":-7,"y":25.6},{"s":"b2","x":-5,"y":26.0},{"s":"b2","x":-3,"y":25.8},{"s":"b2","x":-1,"y":26.2},{"s":"b2","x":1,"y":25.7},{"s":"b2","x":3,"y":25.6},{"s":"b2","x":5,"y":25.0},{"s":"b2","x":7,"y":24.4},{"s":"b2","x":9,"y":23.5},{"s":"b2","x":11,"y":22.7},{"s":"b2","x":13,"y":21.9},{"s":"b2","x":15,"y":20.6},{"s":"b2","x":17,"y":19.9},{"s":"b2","x":19,"y":19.3},{"s":"b2","x":21,"y":19.0},{"s":"b2","x":23,"y":18.0},{"s":"b2","x":25,"y":18.4},{"s":"b2","x":27,"y":17.5},{"s":"b2","x":29,"y":17.9},{"s":"b2","x":31,"y":16.9},{"s":"b2","x":33,"y":17.3},{"s":"b2","x":35,"y":16.0},{"s":"b2","x":37,"y":15.5},{"s":"b2","x":39,"y":16.2},{"s":"b2","x":41,"y":14.9},{"s":"b2","x":43,"y":15.6},{"s":"b2","x":45,"y":16.9},{"s":"b2","x":47,"y":17.1},{"s":"b2","x":49,"y":14.3},{"s":"b2","x":51,"y":13.9},{"s":"b2","x":53,"y":15.0},{"s":"b2","x":55,"y":13.6},{"s":"b2","x":57,"y":11.2},
{"s":"b1","x":-198,"y":12.6},{"s":"b1","x":-196,"y":11.7},{"s":"b1","x":-194,"y":12.9},{"s":"b1","x":-192,"y":12.2},{"s":"b1","x":-190,"y":13.1},{"s":"b1","x":-188,"y":12.5},{"s":"b1","x":-186,"y":13.4},{"s":"b1","x":-184,"y":12.8},{"s":"b1","x":-182,"y":13.3},{"s":"b1","x":-180,"y":12.7},{"s":"b1","x":-178,"y":13.2},{"s":"b1","x":-176,"y":12.6},{"s":"b1","x":-174,"y":13.0},{"s":"b1","x":-172,"y":12.4},{"s":"b1","x":-170,"y":13.3},{"s":"b1","x":-168,"y":12.8},{"s":"b1","x":-166,"y":13.7},{"s":"b1","x":-164,"y":13.2},{"s":"b1","x":-162,"y":14.0},{"s":"b1","x":-160,"y":13.5},{"s":"b1","x":-158,"y":14.2},{"s":"b1","x":-156,"y":13.7},{"s":"b1","x":-154,"y":14.3},{"s":"b1","x":-152,"y":13.8},{"s":"b1","x":-150,"y":14.5},{"s":"b1","x":-148,"y":14.0},{"s":"b1","x":-146,"y":14.4},{"s":"b1","x":-144,"y":13.9},{"s":"b1","x":-142,"y":14.7},{"s":"b1","x":-140,"y":14.3},{"s":"b1","x":-138,"y":14.9},{"s":"b1","x":-136,"y":14.4},{"s":"b1","x":-134,"y":15.0},{"s":"b1","x":-132,"y":14.6},{"s":"b1","x":-130,"y":15.1},{"s":"b1","x":-128,"y":14.7},{"s":"b1","x":-126,"y":15.3},{"s":"b1","x":-124,"y":14.8},{"s":"b1","x":-122,"y":15.2},{"s":"b1","x":-120,"y":14.9},{"s":"b1","x":-118,"y":15.6},{"s":"b1","x":-116,"y":15.2},{"s":"b1","x":-114,"y":15.8},{"s":"b1","x":-112,"y":15.4},{"s":"b1","x":-110,"y":16.0},{"s":"b1","x":-108,"y":15.6},{"s":"b1","x":-106,"y":16.2},{"s":"b1","x":-104,"y":15.9},{"s":"b1","x":-102,"y":16.3},{"s":"b1","x":-100,"y":15.8},{"s":"b1","x":-98,"y":16.6},{"s":"b1","x":-96,"y":16.2},{"s":"b1","x":-94,"y":16.8},{"s":"b1","x":-92,"y":16.4},{"s":"b1","x":-90,"y":17.1},{"s":"b1","x":-88,"y":16.6},{"s":"b1","x":-86,"y":17.2},{"s":"b1","x":-84,"y":16.9},{"s":"b1","x":-82,"y":17.3},{"s":"b1","x":-80,"y":17.0},{"s":"b1","x":-78,"y":17.8},{"s":"b1","x":-76,"y":17.4},{"s":"b1","x":-74,"y":18.2},{"s":"b1","x":-72,"y":17.7},{"s":"b1","x":-70,"y":18.5},{"s":"b1","x":-68,"y":18.0},{"s":"b1","x":-66,"y":18.9},{"s":"b1","x":-64,"y":18.4},{"s":"b1","x":-62,"y":19.1},{"s":"b1","x":-60,"y":18.6},{"s":"b1","x":-58,"y":19.3},{"s":"b1","x":-56,"y":18.9},{"s":"b1","x":-54,"y":19.7},{"s":"b1","x":-52,"y":19.4},{"s":"b1","x":-50,"y":20.1},{"s":"b1","x":-48,"y":19.9},{"s":"b1","x":-46,"y":20.6},{"s":"b1","x":-44,"y":20.6},{"s":"b1","x":-42,"y":21.3},{"s":"b1","x":-40,"y":21.5},{"s":"b1","x":-38,"y":22.2},{"s":"b1","x":-36,"y":22.5},{"s":"b1","x":-34,"y":23.2},{"s":"b1","x":-32,"y":23.8},{"s":"b1","x":-30,"y":24.4},{"s":"b1","x":-28,"y":25.0},{"s":"b1","x":-26,"y":25.6},{"s":"b1","x":-24,"y":26.2},{"s":"b1","x":-22,"y":27.0},{"s":"b1","x":-20,"y":28.0},{"s":"b1","x":-18,"y":29.8},{"s":"b1","x":-16,"y":32.0},{"s":"b1","x":-14,"y":33.8},{"s":"b1","x":-12,"y":35.8},{"s":"b1","x":-10,"y":39.0},{"s":"b1","x":-8,"y":41.8},{"s":"b1","x":-6,"y":43.4},{"s":"b1","x":-4,"y":44.6},{"s":"b1","x":-3,"y":44.9},{"s":"b1","x":-2,"y":45.1},{"s":"b1","x":-1,"y":44.6},{"s":"b1","x":0,"y":45.0},{"s":"b1","x":1,"y":44.5},{"s":"b1","x":2,"y":43.0},{"s":"b1","x":3,"y":42.2},{"s":"b1","x":4,"y":41.4},{"s":"b1","x":5,"y":39.0},{"s":"b1","x":6,"y":37.7},{"s":"b1","x":7,"y":37.2},{"s":"b1","x":8,"y":35.9},{"s":"b1","x":9,"y":34.9},{"s":"b1","x":10,"y":33.8},{"s":"b1","x":11,"y":33.2},{"s":"b1","x":12,"y":32.2},{"s":"b1","x":13,"y":31.6},{"s":"b1","x":14,"y":31.2},{"s":"b1","x":15,"y":30.6},{"s":"b1","x":16,"y":30.1},{"s":"b1","x":17,"y":29.8},{"s":"b1","x":18,"y":29.0},{"s":"b1","x":19,"y":28.6},{"s":"b1","x":20,"y":28.0},{"s":"b1","x":21,"y":27.8},{"s":"b1","x":22,"y":25.8},{"s":"b1","x":23,"y":28.4},{"s":"b1","x":24,"y":26.3},{"s":"b1","x":25.5,"y":26.6},{"s":"b1","x":27,"y":27.0},
{"s":"b3","x":-203,"y":2.8},{"s":"b3","x":-201,"y":2.0},{"s":"b3","x":-199,"y":3.1},{"s":"b3","x":-197,"y":2.3},{"s":"b3","x":-195,"y":2.6},{"s":"b3","x":-193,"y":1.8},{"s":"b3","x":-191,"y":2.9},{"s":"b3","x":-189,"y":2.2},{"s":"b3","x":-187,"y":3.2},{"s":"b3","x":-185,"y":2.5},{"s":"b3","x":-183,"y":2.0},{"s":"b3","x":-181,"y":3.0},{"s":"b3","x":-179,"y":2.4},{"s":"b3","x":-177,"y":3.3},{"s":"b3","x":-175,"y":2.7},{"s":"b3","x":-173,"y":1.9},{"s":"b3","x":-171,"y":3.1},{"s":"b3","x":-169,"y":2.6},{"s":"b3","x":-167,"y":3.5},{"s":"b3","x":-165,"y":2.8},{"s":"b3","x":-163,"y":2.2},{"s":"b3","x":-161,"y":3.3},{"s":"b3","x":-159,"y":2.9},{"s":"b3","x":-157,"y":3.7},{"s":"b3","x":-155,"y":3.0},{"s":"b3","x":-153,"y":2.5},{"s":"b3","x":-151,"y":3.6},{"s":"b3","x":-149,"y":3.1},{"s":"b3","x":-147,"y":3.9},{"s":"b3","x":-145,"y":3.3},{"s":"b3","x":-143,"y":2.8},{"s":"b3","x":-141,"y":3.8},{"s":"b3","x":-139,"y":3.4},{"s":"b3","x":-137,"y":4.2},{"s":"b3","x":-135,"y":3.6},{"s":"b3","x":-133,"y":3.1},{"s":"b3","x":-131,"y":4.1},{"s":"b3","x":-129,"y":3.7},{"s":"b3","x":-127,"y":4.5},{"s":"b3","x":-125,"y":3.9},{"s":"b3","x":-123,"y":3.5},{"s":"b3","x":-121,"y":4.4},{"s":"b3","x":-119,"y":4.0},{"s":"b3","x":-117,"y":4.8},{"s":"b3","x":-115,"y":4.3},{"s":"b3","x":-113,"y":3.9},{"s":"b3","x":-111,"y":4.8},{"s":"b3","x":-109,"y":4.5},{"s":"b3","x":-107,"y":5.2},{"s":"b3","x":-105,"y":4.6},{"s":"b3","x":-103,"y":4.3},{"s":"b3","x":-101,"y":5.3},{"s":"b3","x":-99,"y":4.9},{"s":"b3","x":-97,"y":5.8},{"s":"b3","x":-95,"y":5.1},{"s":"b3","x":-93,"y":4.8},{"s":"b3","x":-91,"y":5.9},{"s":"b3","x":-89,"y":5.5},{"s":"b3","x":-87,"y":6.3},{"s":"b3","x":-85,"y":5.7},{"s":"b3","x":-83,"y":5.4},{"s":"b3","x":-81,"y":6.5},{"s":"b3","x":-79,"y":6.1},{"s":"b3","x":-77,"y":7.0},{"s":"b3","x":-75,"y":6.5},{"s":"b3","x":-73,"y":6.8},{"s":"b3","x":-71,"y":7.4},{"s":"b3","x":-69,"y":7.0},{"s":"b3","x":-67,"y":7.9},{"s":"b3","x":-65,"y":7.3},{"s":"b3","x":-63,"y":8.2},{"s":"b3","x":-61,"y":7.8},{"s":"b3","x":-59,"y":8.6},{"s":"b3","x":-57,"y":8.1},{"s":"b3","x":-55,"y":9.2},{"s":"b3","x":-53,"y":8.7},{"s":"b3","x":-51,"y":9.6},{"s":"b3","x":-49,"y":9.3},{"s":"b3","x":-47,"y":10.4},{"s":"b3","x":-45,"y":9.9},{"s":"b3","x":-43,"y":11.0},{"s":"b3","x":-41,"y":10.7},{"s":"b3","x":-39,"y":11.8},{"s":"b3","x":-37,"y":11.4},{"s":"b3","x":-35,"y":12.4},{"s":"b3","x":-33,"y":12.1},{"s":"b3","x":-31,"y":13.0},{"s":"b3","x":-29,"y":12.6},{"s":"b3","x":-27,"y":13.6},{"s":"b3","x":-25,"y":13.2},{"s":"b3","x":-23,"y":14.0},{"s":"b3","x":-21,"y":13.7},{"s":"b3","x":-19,"y":14.5},{"s":"b3","x":-17,"y":14.1},{"s":"b3","x":-15,"y":14.9},{"s":"b3","x":-13,"y":14.4},{"s":"b3","x":-11,"y":15.2},{"s":"b3","x":-9,"y":14.6},{"s":"b3","x":-7,"y":15.4},{"s":"b3","x":-5,"y":14.8},{"s":"b3","x":-3,"y":15.6},{"s":"b3","x":-1,"y":15.0},{"s":"b3","x":1,"y":15.5},{"s":"b3","x":3,"y":14.8},{"s":"b3","x":5,"y":15.3},{"s":"b3","x":7,"y":14.5},{"s":"b3","x":9,"y":14.9},{"s":"b3","x":11,"y":13.9},{"s":"b3","x":13,"y":14.3},{"s":"b3","x":15,"y":13.3},{"s":"b3","x":17,"y":13.6},{"s":"b3","x":19,"y":12.5},{"s":"b3","x":21,"y":12.7},{"s":"b3","x":23,"y":11.6},{"s":"b3","x":25,"y":11.9},{"s":"b3","x":27,"y":10.7},{"s":"b3","x":29,"y":11.2},{"s":"b3","x":31,"y":10.0},{"s":"b3","x":33,"y":10.3},{"s":"b3","x":35,"y":9.2},{"s":"b3","x":37,"y":9.6},{"s":"b3","x":39,"y":8.4},{"s":"b3","x":41,"y":8.9},{"s":"b3","x":43,"y":7.6},{"s":"b3","x":45,"y":8.2},{"s":"b3","x":47,"y":7.0},{"s":"b3","x":49,"y":7.5},{"s":"b3","x":51,"y":6.5},{"s":"b3","x":53,"y":7.1},{"s":"b3","x":55,"y":6.2},{"s":"b3","x":57,"y":6.8},{"s":"b3","x":59,"y":5.8},{"s":"b3","x":61,"y":6.4},{"s":"b3","x":63,"y":5.4},{"s":"b3","x":65,"y":6.0},{"s":"b3","x":67,"y":5.1},{"s":"b3","x":69,"y":5.8},{"s":"b3","x":71,"y":5.0},{"s":"b3","x":73,"y":5.6},{"s":"b3","x":75,"y":4.6},{"s":"b3","x":77,"y":8.0},{"s":"b3","x":78,"y":4.9},{"s":"b3","x":80,"y":3.2},{"s":"b3","x":82,"y":4.5},{"s":"b3","x":84,"y":3.9},{"s":"b3","x":84.5,"y":7.0},{"s":"b3","x":85,"y":7.3},{"s":"b3","x":86,"y":2.8},{"s":"b3","x":88,"y":4.6},{"s":"b3","x":90,"y":3.5},{"s":"b3","x":91,"y":5.0},{"s":"b3","x":92,"y":5.9},{"s":"b3","x":93,"y":2.6},{"s":"b3","x":95,"y":7.3},{"s":"b3","x":96,"y":8.3}
],
"lb": [
{"s":"b1","x":-60,"y":18.6},{"s":"b1","x":-50,"y":19.9},{"s":"b1","x":-40,"y":21.4},{"s":"b1","x":-34,"y":22.8},{"s":"b1","x":-28.8,"y":24.4},{"s":"b1","x":-25,"y":25.6},{"s":"b1","x":-22,"y":27.0},{"s":"b1","x":-18.5,"y":29.6},{"s":"b1","x":-15,"y":32.7},{"s":"b1","x":-12.8,"y":35.2},{"s":"b1","x":-10.7,"y":37.7},{"s":"b1","x":-8,"y":40.6},{"s":"b1","x":-5.7,"y":43.7},{"s":"b1","x":-3.5,"y":44.5},{"s":"b1","x":-1.5,"y":44.6},{"s":"b1","x":0,"y":44.2},{"s":"b1","x":1.8,"y":43.0},{"s":"b1","x":4,"y":40.4},{"s":"b1","x":6,"y":37.7},{"s":"b1","x":8.5,"y":35.4},{"s":"b1","x":11.5,"y":33.0},{"s":"b1","x":14,"y":31.0},{"s":"b1","x":15.7,"y":29.7},{"s":"b1","x":17.5,"y":28.3},{"s":"b1","x":19.5,"y":26.6},
{"s":"b2","x":-157,"y":7.1},{"s":"b2","x":-140,"y":7.5},{"s":"b2","x":-121,"y":7.9},{"s":"b2","x":-106,"y":8.5},{"s":"b2","x":-100,"y":8.8},{"s":"b2","x":-96,"y":9.1},{"s":"b2","x":-92,"y":9.3},{"s":"b2","x":-89,"y":9.0},{"s":"b2","x":-85,"y":8.9},{"s":"b2","x":-80,"y":9.4},{"s":"b2","x":-70,"y":10.4},{"s":"b2","x":-62,"y":11.2},{"s":"b2","x":-53,"y":12.1},{"s":"b2","x":-47,"y":13.8},{"s":"b2","x":-40,"y":16.3},{"s":"b2","x":-33,"y":18.4},{"s":"b2","x":-25,"y":20.6},{"s":"b2","x":-18,"y":22.5},{"s":"b2","x":-10,"y":24.0},{"s":"b2","x":-5,"y":24.9},{"s":"b2","x":0,"y":25.4},{"s":"b2","x":5,"y":24.6},{"s":"b2","x":10,"y":23.3},{"s":"b2","x":17,"y":21.2},{"s":"b2","x":25,"y":19.1},{"s":"b2","x":32,"y":17.2},{"s":"b2","x":40,"y":15.4},{"s":"b2","x":48,"y":13.6},{"s":"b2","x":56,"y":11.9},
{"s":"b3","x":-201,"y":2.4},{"s":"b3","x":-185,"y":2.6},{"s":"b3","x":-171,"y":2.9},{"s":"b3","x":-150,"y":3.4},{"s":"b3","x":-133,"y":3.9},{"s":"b3","x":-115,"y":4.7},{"s":"b3","x":-95,"y":5.6},{"s":"b3","x":-82,"y":6.3},{"s":"b3","x":-70,"y":7.2},{"s":"b3","x":-58,"y":8.5},{"s":"b3","x":-46,"y":10.0},{"s":"b3","x":-38,"y":11.2},{"s":"b3","x":-30,"y":12.4},{"s":"b3","x":-22,"y":13.6},{"s":"b3","x":-15,"y":14.5},{"s":"b3","x":-7,"y":14.9},{"s":"b3","x":0,"y":15.0},{"s":"b3","x":7,"y":14.6},{"s":"b3","x":15,"y":13.8},{"s":"b3","x":22,"y":12.4},{"s":"b3","x":30,"y":10.7},{"s":"b3","x":37,"y":9.2},{"s":"b3","x":45,"y":7.7},{"s":"b3","x":55,"y":6.4},{"s":"b3","x":65,"y":5.3},{"s":"b3","x":75,"y":4.7},{"s":"b3","x":85,"y":4.2},{"s":"b3","x":89,"y":4.0}
]
},
"layer": [
{
"resolve": {"axis": {"x": "independent", "y": "independent"}},
"layer": [
{"data": {"name": "pa"},
"mark": {"type": "point", "opacity": 1, "strokeWidth": 1.3},
"encoding": {
"x": {"field": "x", "type": "quantitative", "scale": {"domain": [-325, 47], "nice": false, "zero": false}, "axis": {"orient": "bottom", "offset": -477, "values": [-300, -200, -100, 0], "tickSize": 9, "labelPadding": 9, "title": null, "labelFlush": false, "labelOverlap": false, "labelExpr": "datum.value < 0 ? '-' + (-datum.value) : '' + datum.value"}},
"y": {"field": "y", "type": "quantitative", "scale": {"domain": [-47.7, 47.9], "nice": false, "zero": false}, "axis": {"orient": "left", "values": [12.8, 26.9, 40.9], "tickSize": 10, "labels": false, "title": null}},
"shape": {"field": "s", "type": "nominal", "scale": {"domain": ["a2", "a4", "a3", "a5", "a1"], "range": ["circle", "circle", "circle", "diamond", "circle"]}, "legend": null},
"fill": {"field": "s", "type": "nominal", "scale": {"domain": ["a2", "a4", "a3", "a5", "a1"], "range": ["#c3c3c3", "#8c8c8c", "#000000", "#000000", "#ffffff"]}, "legend": null},
"stroke": {"field": "s", "type": "nominal", "scale": {"domain": ["a2", "a4", "a3", "a5", "a1"], "range": ["#c3c3c3", "#8c8c8c", "#000000", "#000000", "#000000"]}, "legend": null},
"size": {"field": "s", "type": "nominal", "scale": {"type": "ordinal", "domain": ["a2", "a4", "a3", "a5", "a1"], "range": [90, 90, 80, 125, 52]}, "legend": null}
}},
{"data": {"name": "la"},
"mark": {"type": "line", "color": "#111111", "strokeWidth": 1.4},
"encoding": {
"x": {"field": "x", "type": "quantitative", "scale": {"domain": [-325, 47], "nice": false, "zero": false}, "axis": {"orient": "bottom", "offset": -477, "values": [-250, -150, -50], "tickSize": 5, "labels": false, "domain": false, "title": null}},
"y": {"field": "y", "type": "quantitative", "scale": {"domain": [-47.7, 47.9], "nice": false, "zero": false}, "axis": {"orient": "left", "values": [5.7, 19.7, 33.9], "tickSize": 5, "labels": false, "domain": false, "title": null}},
"detail": {"field": "s", "type": "nominal"}
}},
{"data": {"values": [{"t": "a)", "x": -307.3, "y": 40.0}]},
"mark": {"type": "text", "font": "Liberation Serif", "fontSize": 56, "align": "left", "baseline": "alphabetic", "color": "#000"},
"encoding": {
"x": {"field": "x", "type": "quantitative", "scale": {"domain": [-325, 47], "nice": false, "zero": false}, "axis": {"orient": "top", "values": [-300, -250, -200, -150, -100, -50, 0], "tickSize": -9, "labels": false, "title": null}},
"y": {"field": "y", "type": "quantitative", "scale": {"domain": [-47.7, 47.9], "nice": false, "zero": false}, "axis": {"orient": "right", "values": [12.8, 26.9, 40.9], "tickSize": -8, "labels": false, "domain": false, "title": null}},
"text": {"field": "t"}
}},
{"data": {"values": [{"t": "T=70 K", "x": -202.5, "y": 39.5}]},
"mark": {"type": "text", "font": "Liberation Sans", "fontSize": 40, "align": "left", "baseline": "alphabetic", "color": "#000"},
"encoding": {
"x": {"field": "x", "type": "quantitative", "scale": {"domain": [-325, 47], "nice": false, "zero": false}, "axis": null},
"y": {"field": "y", "type": "quantitative", "scale": {"domain": [-47.7, 47.9], "nice": false, "zero": false}, "axis": null},
"text": {"field": "t"}
}}
]
},
{
"resolve": {"axis": {"x": "independent", "y": "independent"}},
"layer": [
{"data": {"name": "pb"},
"mark": {"type": "point", "opacity": 1, "strokeWidth": 1.3},
"encoding": {
"x": {"field": "x", "type": "quantitative", "scale": {"domain": [-240, 122], "nice": false, "zero": false}, "axis": {"orient": "bottom", "values": [-200, -150, -100, -50, 0, 50, 100], "tickSize": 9, "labelPadding": 10, "title": null, "labelFlush": false, "labelOverlap": false, "labelExpr": "datum.value < 0 ? '-' + (-datum.value) : '' + datum.value"}},
"y": {"field": "y", "type": "quantitative", "scale": {"domain": [0, 95.6], "nice": false, "zero": false}, "axis": {"orient": "left", "values": [7.8, 18.5, 29.0, 39.8], "tickSize": 10, "labels": false, "title": "Intensity (arb. units)", "titleFont": "Liberation Sans", "titleFontSize": 41, "titleFontWeight": "normal", "titleAngle": 270, "titleX": -27, "titleY": 742, "titleAlign": "center", "titleBaseline": "alphabetic"}},
"shape": {"field": "s", "type": "nominal", "scale": {"domain": ["b2", "b1", "b3"], "range": ["circle", "diamond", "circle"]}, "legend": null},
"fill": {"field": "s", "type": "nominal", "scale": {"domain": ["b2", "b1", "b3"], "range": ["#8e8e8e", "#000000", "#ffffff"]}, "legend": null},
"stroke": {"field": "s", "type": "nominal", "scale": {"domain": ["b2", "b1", "b3"], "range": ["#8e8e8e", "#000000", "#000000"]}, "legend": null},
"size": {"field": "s", "type": "nominal", "scale": {"type": "ordinal", "domain": ["b2", "b1", "b3"], "range": [80, 125, 55]}, "legend": null}
}},
{"data": {"name": "lb"},
"mark": {"type": "line", "color": "#111111", "strokeWidth": 1.4},
"encoding": {
"x": {"field": "x", "type": "quantitative", "scale": {"domain": [-240, 122], "nice": false, "zero": false}, "axis": {"orient": "bottom", "values": [-225, -175, -125, -75, -25, 25, 75], "tickSize": 5, "labels": false, "domain": false, "title": null}},
"y": {"field": "y", "type": "quantitative", "scale": {"domain": [0, 95.6], "nice": false, "zero": false}, "axis": {"orient": "left", "values": [2.6, 13.2, 23.8, 34.3, 45.2], "tickSize": 5, "labels": false, "domain": false, "title": null}},
"detail": {"field": "s", "type": "nominal"}
}},
{"data": {"values": [{"t": "b)", "x": -221.8, "y": 35.0}]},
"mark": {"type": "text", "font": "Liberation Serif", "fontSize": 48, "align": "left", "baseline": "alphabetic", "color": "#000"},
"encoding": {
"x": {"field": "x", "type": "quantitative", "scale": {"domain": [-240, 122], "nice": false, "zero": false}, "axis": null},
"y": {"field": "y", "type": "quantitative", "scale": {"domain": [0, 95.6], "nice": false, "zero": false}, "axis": {"orient": "right", "values": [7.8, 18.5, 29.0, 39.8], "tickSize": -8, "labels": false, "domain": false, "title": null}},
"text": {"field": "t"}
}},
{"data": {"values": [{"t": "T (K):", "x": -229.8, "y": 15.7}]},
"mark": {"type": "text", "font": "Liberation Sans", "fontSize": 34, "align": "left", "baseline": "alphabetic", "color": "#000"},
"encoding": {
"x": {"field": "x", "type": "quantitative", "scale": {"domain": [-240, 122], "nice": false, "zero": false}, "axis": null},
"y": {"field": "y", "type": "quantitative", "scale": {"domain": [0, 95.6], "nice": false, "zero": false}, "axis": null},
"text": {"field": "t"}
}},
{"data": {"values": [{"t": "70", "x": -208.8, "y": 10.5}, {"t": "220", "x": -207.1, "y": 4.8}, {"t": "330", "x": -207.1, "y": 1.3}]},
"mark": {"type": "text", "font": "Liberation Serif", "fontSize": 32, "align": "right", "baseline": "alphabetic", "color": "#000"},
"encoding": {
"x": {"field": "x", "type": "quantitative", "scale": {"domain": [-240, 122], "nice": false, "zero": false}, "axis": null},
"y": {"field": "y", "type": "quantitative", "scale": {"domain": [0, 95.6], "nice": false, "zero": false}, "axis": null},
"text": {"field": "t"}
}}
]
}
],
"resolve": {"scale": {"x": "independent", "y": "independent", "shape": "independent", "fill": "independent", "stroke": "independent", "size": "independent"}, "axis": {"x": "independent", "y": "independent"}}
}
